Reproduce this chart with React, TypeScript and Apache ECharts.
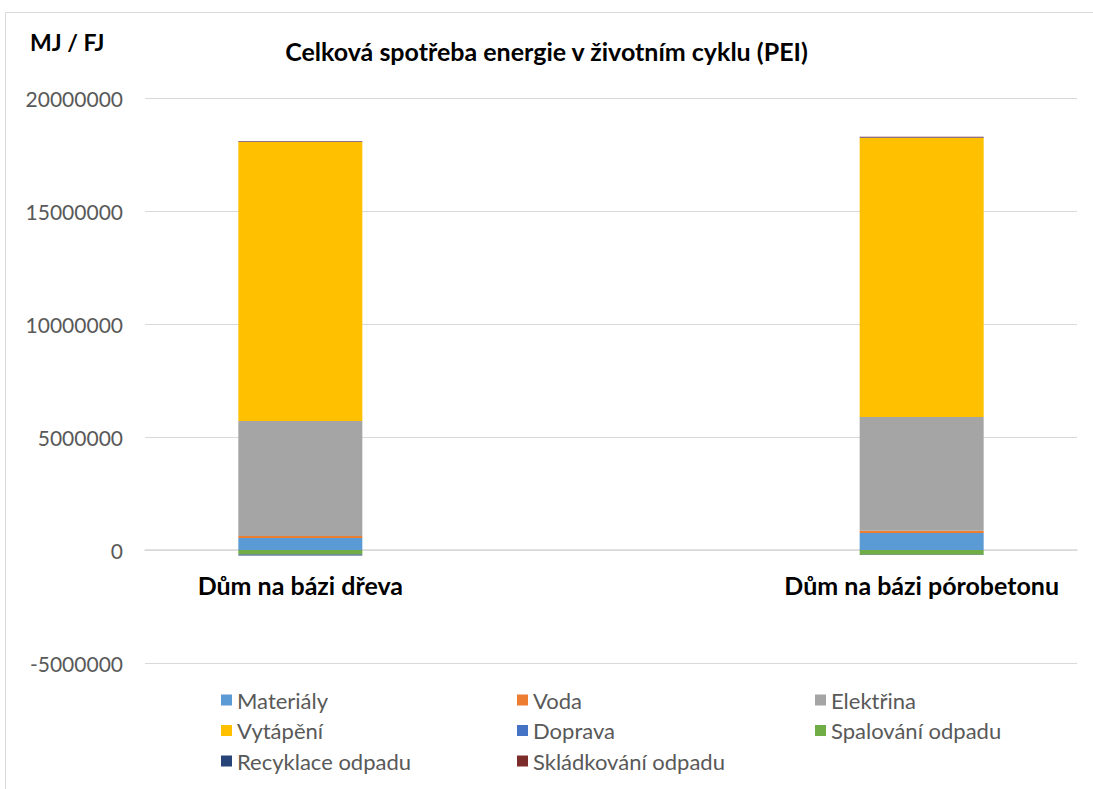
import { useEffect, useRef } from 'react';
import * as echarts from 'echarts';

// Houses compared
const categories = ['Dům na bázi dřeva', 'Dům na bázi pórobetonu'];

// Life-cycle primary energy by source, MJ per functional unit
const materialy = [530000, 750000];
const voda = [90000, 100000];
const elektrina = [5090000, 5040000];
const vytapeni = [12340000, 12340000];
const doprava = [30000, 20000];
const spalovaniOdpadu = [-200000, -210000];
const recyklaceOdpadu = [-40000, -10000];
const skladkovaniOdpadu = [20000, 40000];

const yTicks = [-5000000, 0, 5000000, 10000000, 15000000, 20000000];

const seriesDefs = [
  { name: 'Materiály', values: materialy, color: '#5B9BD5' },
  { name: 'Voda', values: voda, color: '#ED7D31' },
  { name: 'Elektřina', values: elektrina, color: '#A5A5A5' },
  { name: 'Vytápění', values: vytapeni, color: '#FFC000' },
  { name: 'Doprava', values: doprava, color: '#4472C4' },
  { name: 'Spalování odpadu', values: spalovaniOdpadu, color: '#70AD47' },
  { name: 'Recyklace odpadu', values: recyklaceOdpadu, color: '#264478' },
  { name: 'Skládkování odpadu', values: skladkovaniOdpadu, color: '#7B2C2A' },
];

// The category axis is laid out in 7 slots; the two houses sit in slots 1 and 5.
const SLOT_COUNT = 7;
const HOUSE_SLOTS = [1, 5];

const slotLabels: string[] = Array.from({ length: SLOT_COUNT }, () => '');
HOUSE_SLOTS.forEach((s, i) => (slotLabels[s] = categories[i]));

const toSlots = (values: number[]) => {
  const out: (number | null)[] = Array.from({ length: SLOT_COUNT }, () => null);
  HOUSE_SLOTS.forEach((s, i) => (out[s] = values[i]));
  return out;
};

const FONT = 'Lato, "Noto Sans", sans-serif';

const GRID_TOP = 98;
const GRID_BOTTOM = 126;
const CHART_H = 789;

export default function App() {
  const ref = useRef<HTMLDivElement>(null);

  useEffect(() => {
    if (!ref.current) return;
    const chart = echarts.init(ref.current, undefined, { renderer: 'svg' });

    const legendCols = [
      ['Materiály', 'Vytápění', 'Recyklace odpadu'],
      ['Voda', 'Doprava', 'Skládkování odpadu'],
      ['Elektřina', 'Spalování odpadu'],
    ];
    const legendLeft = [216, 512, 810];

    // Lift the category axis (line and labels) from the grid bottom up to the zero line.
    const yMin = yTicks[0];
    const yMax = yTicks[yTicks.length - 1];
    const gridHeight = CHART_H - GRID_TOP - GRID_BOTTOM;
    const zeroOffset = (gridHeight * (0 - yMin)) / (yMax - yMin);

    chart.setOption({
      animation: false,
      backgroundColor: '#ffffff',
      textStyle: { fontFamily: FONT },
      title: [
        {
          text: 'MJ / FJ',
          left: 25,
          top: 25,
          textStyle: { fontFamily: FONT, fontSize: 23, fontWeight: 'bold', color: '#000000' },
        },
        {
          text: 'Celková spotřeba energie v životním cyklu (PEI)',
          left: 'center',
          top: 33,
          textStyle: { fontFamily: FONT, fontSize: 25, fontWeight: 'bold', color: '#000000' },
        },
      ],
      graphic: [
        {
          type: 'rect',
          silent: true,
          shape: { x: 5.5, y: 12.5, width: 1200, height: 900 },
          style: { fill: 'none', stroke: '#d9d9d9', lineWidth: 1 },
        },
      ],
      legend: legendCols.map((col, i) => ({
        data: col,
        orient: 'vertical',
        left: legendLeft[i],
        top: 684,
        itemWidth: 11,
        itemHeight: 11,
        itemGap: 8.5,
        icon: 'rect',
        selectedMode: false,
        textStyle: { fontFamily: FONT, fontSize: 22, lineHeight: 22, color: '#595959' },
      })),
      grid: { left: 145, right: 16, top: GRID_TOP, bottom: GRID_BOTTOM },
      xAxis: {
        type: 'category',
        data: slotLabels,
        boundaryGap: false,
        offset: -zeroOffset,
        axisLine: { onZero: false, lineStyle: { color: '#d9d9d9', width: 1.5 } },
        axisTick: { show: false },
        axisLabel: {
          interval: 0,
          margin: 22,
          fontFamily: FONT,
          fontSize: 25,
          fontWeight: 'bold',
          color: '#000000',
        },
      },
      yAxis: {
        type: 'value',
        min: yMin,
        max: yMax,
        interval: yTicks[1] - yTicks[0],
        axisLine: { show: false },
        axisTick: { show: false },
        splitLine: { lineStyle: { color: '#d9d9d9', width: 1 } },
        axisLabel: {
          margin: 22,
          fontFamily: FONT,
          fontSize: 21,
          color: '#595959',
          formatter: (v: number) => String(v),
        },
      },
      series: seriesDefs.map((s) => ({
        name: s.name,
        type: 'bar',
        stack: 'total',
        barWidth: 124,
        data: toSlots(s.values),
        itemStyle: { color: s.color },
      })),
    });

    return () => chart.dispose();
  }, []);

  return (
    <div
      ref={ref}
      style={{ position: 'fixed', left: 0, top: 0, width: 1093, height: 789 }}
    />
  );
}
